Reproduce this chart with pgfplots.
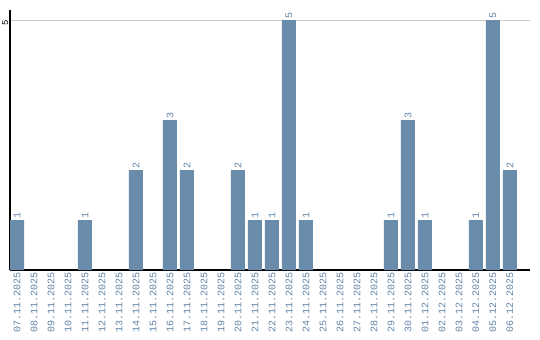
\documentclass[border=0pt]{standalone}
\usepackage{fontspec}
\setmainfont{Liberation Mono}
\usepackage{pgfplots}
\pgfplotsset{compat=1.18}
\definecolor{barc}{RGB}{106,140,171}
\definecolor{labc}{RGB}{98,132,166}
\begin{document}
\begin{tikzpicture}
\begin{axis}[
  scale only axis,
  width=520bp, height=260bp,
  at={(0,0)}, anchor=south west,
  xmin=-0.412, xmax=30.18,
  ymin=0, ymax=5.2,
  axis x line=bottom, axis y line=left,
  axis line style={line width=1.2bp, -},
  major tick length=0pt,
  xtick={0,...,29},
  xticklabels={07.11.2025,08.11.2025,09.11.2025,10.11.2025,11.11.2025,12.11.2025,13.11.2025,14.11.2025,15.11.2025,16.11.2025,17.11.2025,18.11.2025,19.11.2025,20.11.2025,21.11.2025,22.11.2025,23.11.2025,24.11.2025,25.11.2025,26.11.2025,27.11.2025,28.11.2025,29.11.2025,30.11.2025,01.12.2025,02.12.2025,03.12.2025,04.12.2025,05.12.2025,06.12.2025},
  xticklabel style={rotate=90, anchor=east, inner sep=2bp, text=labc, font=\fontsize{10bp}{12bp}\selectfont},
  ytick={5},
  yticklabel style={rotate=90, anchor=south, inner sep=1.5bp, xshift=-3bp, text=black, font=\fontsize{9bp}{11bp}\selectfont},
  /pgf/number format/assume math mode=true,
  ymajorgrids,
  grid style={color={rgb,255:red,204;green,204;blue,204}, line width=1bp},
  ybar, bar width=14bp, bar shift=0pt,
  nodes near coords,
  every node near coord/.append style={rotate=90, anchor=west, inner sep=1.5bp, text=labc, font=\fontsize{10bp}{12bp}\selectfont},
  clip=false,
]
\addplot[fill=barc, draw=none] coordinates {
  (0,1) (4,1) (7,2) (9,3) (10,2) (13,2) (14,1) (15,1) (16,5) (17,1)
  (22,1) (23,3) (24,1) (27,1) (28,5) (29,2)
};
\end{axis}
\pgfresetboundingbox
\path[use as bounding box] (-10bp,-70bp) rectangle (530bp,270bp);
\end{tikzpicture}
\end{document}
